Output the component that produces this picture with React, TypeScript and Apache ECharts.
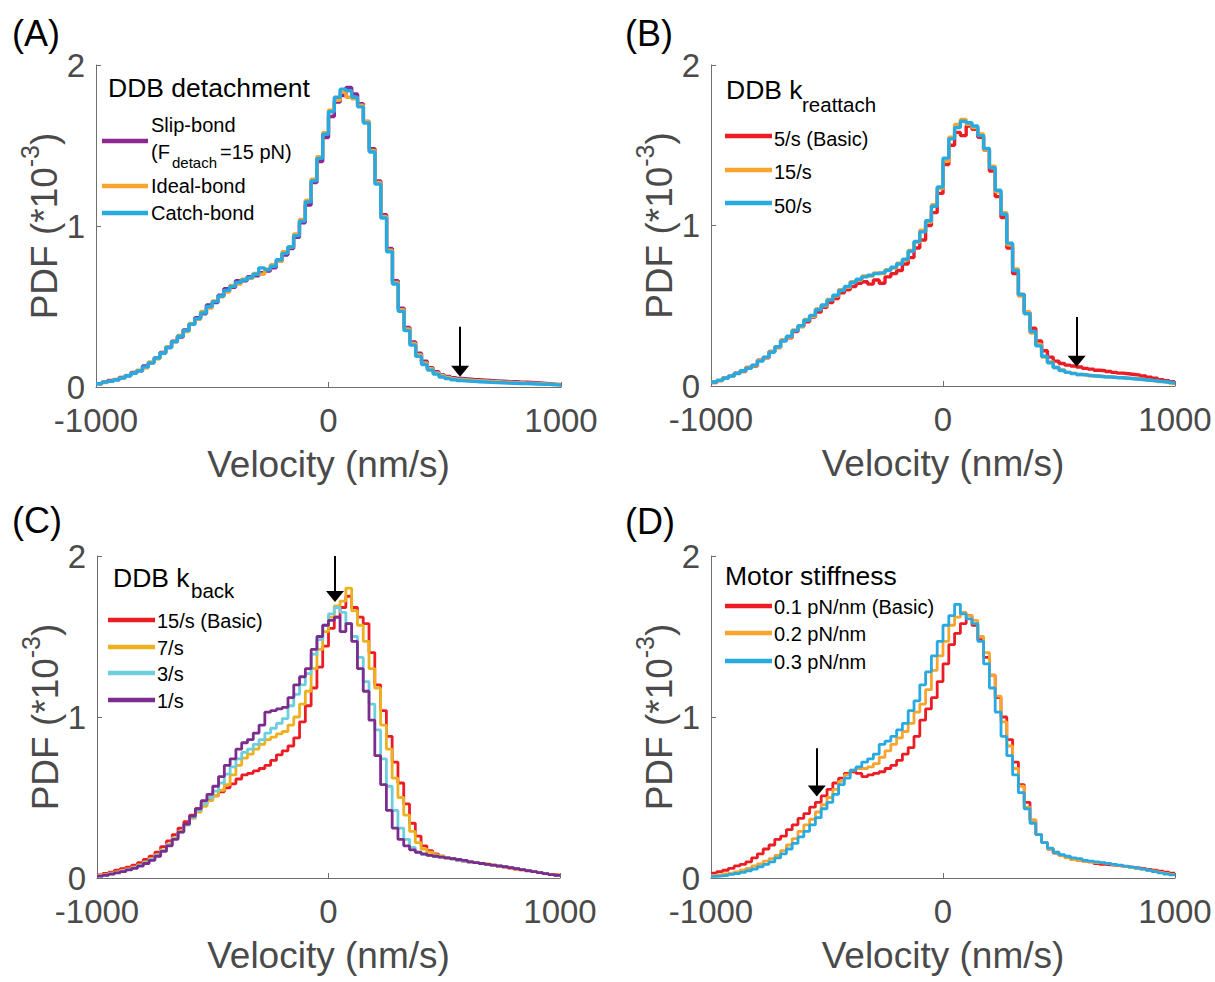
import React, { useEffect, useRef } from "react";
import * as echarts from "echarts";

// ---------- axes ----------
const X_MIN = -1000;
const X_MAX = 1000;
const X_INTERVAL = 1000;
const BIN = 25; // histogram bin width (nm/s)
const Y_MIN = 0;
const Y_MAX = 2;
const Y_INTERVAL = 1;
const X_TITLE = "Velocity (nm/s)";

// ---------- panel A : DDB detachment ----------
const A_LABELS = ["Slip-bond", "Ideal-bond", "Catch-bond"];
const A_SLIP = [
  0.02, 0.03, 0.04, 0.045, 0.06, 0.07, 0.09, 0.1, 0.13, 0.15,
  0.18, 0.215, 0.245, 0.285, 0.31, 0.355, 0.39, 0.43, 0.455, 0.51,
  0.525, 0.57, 0.61, 0.62, 0.66, 0.66, 0.685, 0.69, 0.71, 0.72,
  0.74, 0.78, 0.82, 0.86, 0.93, 1.02, 1.13, 1.27, 1.4, 1.55,
  1.68, 1.77, 1.81, 1.86, 1.82, 1.76, 1.65, 1.48, 1.28, 1.07,
  0.86, 0.66, 0.49, 0.37, 0.28, 0.21, 0.16, 0.12, 0.095, 0.075,
  0.065, 0.058, 0.053, 0.05, 0.047, 0.045, 0.043, 0.04, 0.038, 0.036,
  0.034, 0.033, 0.031, 0.03, 0.028, 0.026, 0.024, 0.021, 0.018, 0.015,
];
const A_IDEAL = [
  0.02, 0.028, 0.036, 0.047, 0.055, 0.072, 0.085, 0.105, 0.12, 0.155,
  0.175, 0.21, 0.25, 0.28, 0.32, 0.345, 0.395, 0.42, 0.47, 0.49,
  0.535, 0.56, 0.59, 0.63, 0.64, 0.67, 0.675, 0.705, 0.7, 0.73,
  0.76, 0.78, 0.84, 0.87, 0.95, 1.04, 1.16, 1.29, 1.43, 1.58,
  1.72, 1.78, 1.83, 1.8, 1.79, 1.75, 1.65, 1.47, 1.27, 1.06,
  0.85, 0.65, 0.48, 0.36, 0.27, 0.2, 0.15, 0.113, 0.088, 0.07,
  0.06, 0.052, 0.047, 0.044, 0.041, 0.039, 0.037, 0.035, 0.033, 0.031,
  0.03, 0.028, 0.027, 0.025, 0.024, 0.022, 0.02, 0.018, 0.016, 0.014,
];
const A_CATCH = [
  0.02, 0.03, 0.035, 0.045, 0.055, 0.07, 0.085, 0.1, 0.125, 0.15,
  0.18, 0.21, 0.245, 0.28, 0.315, 0.35, 0.39, 0.425, 0.46, 0.5,
  0.53, 0.565, 0.6, 0.625, 0.65, 0.665, 0.68, 0.7, 0.74, 0.73,
  0.75, 0.79, 0.83, 0.87, 0.94, 1.03, 1.15, 1.28, 1.42, 1.57,
  1.71, 1.8, 1.85, 1.84, 1.8, 1.74, 1.64, 1.46, 1.26, 1.05,
  0.84, 0.64, 0.47, 0.35, 0.26, 0.19, 0.14, 0.105, 0.08, 0.062,
  0.052, 0.045, 0.04, 0.037, 0.035, 0.033, 0.031, 0.029, 0.027, 0.026,
  0.024, 0.023, 0.022, 0.021, 0.02, 0.018, 0.017, 0.016, 0.014, 0.013,
];

// ---------- panel B : DDB k_reattach ----------
const B_LABELS = ["5/s (Basic)", "15/s", "50/s"];
const B_5 = [
  0.022, 0.035, 0.05, 0.06, 0.08, 0.09, 0.115, 0.125, 0.16, 0.175,
  0.215, 0.24, 0.285, 0.3, 0.34, 0.37, 0.4, 0.43, 0.46, 0.49,
  0.52, 0.545, 0.58, 0.6, 0.62, 0.64, 0.65, 0.635, 0.66, 0.64,
  0.68, 0.7, 0.72, 0.76, 0.8, 0.86, 0.91, 1.0, 1.08, 1.2,
  1.38, 1.5, 1.58, 1.56, 1.62, 1.6, 1.55, 1.47, 1.34, 1.18,
  1.05, 0.86, 0.7, 0.57, 0.46, 0.36, 0.28, 0.22, 0.18, 0.155,
  0.14, 0.13, 0.125, 0.118, 0.11, 0.105, 0.098, 0.095, 0.09, 0.085,
  0.08, 0.076, 0.072, 0.068, 0.062, 0.055, 0.048, 0.04, 0.033, 0.027,
];
const B_15 = [
  0.024, 0.033, 0.05, 0.06, 0.08, 0.093, 0.113, 0.128, 0.158, 0.178,
  0.215, 0.24, 0.285, 0.305, 0.35, 0.37, 0.415, 0.435, 0.48, 0.5,
  0.54, 0.56, 0.6, 0.615, 0.65, 0.66, 0.685, 0.685, 0.705, 0.7,
  0.725, 0.735, 0.765, 0.785, 0.845, 0.895, 0.97, 1.02, 1.13, 1.23,
  1.4, 1.55, 1.63, 1.66, 1.63, 1.61, 1.57, 1.47, 1.37, 1.21,
  1.08, 0.88, 0.73, 0.56, 0.46, 0.33, 0.26, 0.18, 0.15, 0.115,
  0.1, 0.085, 0.08, 0.072, 0.07, 0.064, 0.062, 0.058, 0.057, 0.053,
  0.052, 0.048, 0.046, 0.042, 0.04, 0.035, 0.032, 0.027, 0.024, 0.019,
];
const B_50 = [
  0.025, 0.035, 0.048, 0.062, 0.078, 0.095, 0.11, 0.13, 0.155, 0.18,
  0.21, 0.245, 0.28, 0.31, 0.345, 0.375, 0.41, 0.44, 0.475, 0.505,
  0.535, 0.565, 0.595, 0.62, 0.645, 0.665, 0.68, 0.69, 0.7, 0.705,
  0.72, 0.74, 0.76, 0.79, 0.84, 0.9, 0.96, 1.03, 1.12, 1.24,
  1.42, 1.54, 1.61, 1.65, 1.64, 1.62, 1.56, 1.48, 1.36, 1.22,
  1.07, 0.89, 0.72, 0.57, 0.45, 0.34, 0.25, 0.185, 0.145, 0.115,
  0.097, 0.085, 0.077, 0.072, 0.068, 0.064, 0.061, 0.058, 0.056, 0.053,
  0.051, 0.048, 0.045, 0.042, 0.039, 0.035, 0.031, 0.027, 0.023, 0.019,
];

// ---------- panel C : DDB k_back ----------
const C_LABELS = ["15/s (Basic)", "7/s", "3/s", "1/s"];
const C_15 = [
  0.02, 0.028, 0.036, 0.048, 0.058, 0.068, 0.08, 0.095, 0.115, 0.135,
  0.16, 0.195, 0.23, 0.27, 0.31, 0.35, 0.39, 0.43, 0.46, 0.49,
  0.51, 0.535, 0.56, 0.585, 0.615, 0.64, 0.65, 0.665, 0.68, 0.7,
  0.73, 0.765, 0.79, 0.82, 0.87, 0.97, 1.07, 1.18, 1.31, 1.44,
  1.55, 1.62, 1.68, 1.75, 1.68, 1.62, 1.58, 1.4, 1.2, 1.04,
  0.88, 0.72, 0.59, 0.46, 0.34, 0.26, 0.2, 0.17, 0.15, 0.135,
  0.125, 0.12, 0.11, 0.105, 0.1, 0.095, 0.09, 0.085, 0.078, 0.072,
  0.068, 0.062, 0.056, 0.05, 0.045, 0.04, 0.034, 0.028, 0.022, 0.018,
];
const C_7 = [
  0.016, 0.022, 0.03, 0.038, 0.047, 0.057, 0.068, 0.082, 0.1, 0.12,
  0.145, 0.175, 0.21, 0.25, 0.29, 0.33, 0.37, 0.41, 0.445, 0.48,
  0.51, 0.545, 0.58, 0.64, 0.7, 0.745, 0.77, 0.8, 0.83, 0.86,
  0.875, 0.895, 0.91, 0.95, 1.0, 1.08, 1.16, 1.3, 1.42, 1.53,
  1.62, 1.69, 1.72, 1.8, 1.66, 1.57, 1.47, 1.3, 1.18, 0.95,
  0.8, 0.62, 0.5, 0.39, 0.29, 0.22, 0.18, 0.16, 0.145, 0.135,
  0.125, 0.118, 0.112, 0.105, 0.1, 0.095, 0.09, 0.086, 0.08, 0.074,
  0.068, 0.063, 0.057, 0.051, 0.046, 0.04, 0.034, 0.028, 0.022, 0.017,
];
const C_3 = [
  0.012, 0.018, 0.026, 0.034, 0.043, 0.053, 0.064, 0.078, 0.095, 0.115,
  0.14, 0.17, 0.205, 0.245, 0.285, 0.33, 0.375, 0.42, 0.46, 0.5,
  0.54, 0.59, 0.645, 0.69, 0.74, 0.78, 0.8, 0.83, 0.86, 0.9,
  0.93, 0.96, 0.99, 1.07, 1.14, 1.2, 1.27, 1.39, 1.48, 1.57,
  1.64, 1.68, 1.65, 1.58, 1.5, 1.37, 1.22, 1.08, 0.92, 0.74,
  0.57, 0.42, 0.31, 0.24, 0.19, 0.16, 0.145, 0.14, 0.135, 0.13,
  0.125, 0.118, 0.11, 0.105, 0.1, 0.095, 0.09, 0.085, 0.08, 0.075,
  0.07, 0.064, 0.058, 0.052, 0.046, 0.04, 0.034, 0.027, 0.021, 0.016,
];
const C_1 = [
  0.012, 0.017, 0.024, 0.032, 0.04, 0.05, 0.06, 0.074, 0.09, 0.11,
  0.135, 0.165, 0.2, 0.24, 0.285, 0.335, 0.385, 0.43, 0.48, 0.52,
  0.57, 0.63, 0.7, 0.74, 0.8, 0.84, 0.86, 0.9, 0.95, 1.03,
  1.04, 1.05, 1.06, 1.12, 1.2, 1.25, 1.3, 1.42, 1.5, 1.57,
  1.6, 1.62, 1.53, 1.58, 1.47, 1.3, 1.16, 0.98, 0.76, 0.58,
  0.42, 0.31, 0.24, 0.2, 0.175, 0.16, 0.15, 0.14, 0.135, 0.13,
  0.125, 0.12, 0.115, 0.11, 0.1, 0.095, 0.09, 0.085, 0.08, 0.075,
  0.07, 0.064, 0.058, 0.052, 0.046, 0.04, 0.034, 0.027, 0.021, 0.016,
];

// ---------- panel D : motor stiffness ----------
const D_LABELS = ["0.1 pN/nm (Basic)", "0.2 pN/nm", "0.3 pN/nm"];
const D_01 = [
  0.03, 0.04, 0.048, 0.06, 0.075, 0.085, 0.1, 0.125, 0.15, 0.18,
  0.205, 0.24, 0.26, 0.3, 0.33, 0.37, 0.4, 0.44, 0.47, 0.51,
  0.55, 0.59, 0.62, 0.65, 0.66, 0.65, 0.63, 0.64, 0.65, 0.66,
  0.68, 0.7, 0.73, 0.77, 0.81, 0.88, 0.98, 1.05, 1.12, 1.22,
  1.33, 1.45, 1.52, 1.58, 1.63, 1.57, 1.48, 1.37, 1.26, 1.12,
  1.0, 0.86, 0.72, 0.58, 0.47, 0.36, 0.27, 0.22, 0.18, 0.155,
  0.14, 0.13, 0.115, 0.11, 0.105, 0.1, 0.09, 0.085, 0.082, 0.078,
  0.074, 0.07, 0.066, 0.062, 0.058, 0.053, 0.048, 0.042, 0.036, 0.03,
];
const D_02 = [
  0.015, 0.02, 0.025, 0.03, 0.038, 0.048, 0.06, 0.075, 0.088, 0.105,
  0.12, 0.14, 0.17, 0.205, 0.245, 0.29, 0.33, 0.365, 0.41, 0.455,
  0.5, 0.55, 0.6, 0.64, 0.67, 0.68, 0.68, 0.69, 0.71, 0.75,
  0.79, 0.83, 0.87, 0.91, 0.96, 1.03, 1.08, 1.17, 1.29, 1.38,
  1.47, 1.57, 1.62, 1.65, 1.63, 1.6, 1.5, 1.4, 1.26, 1.13,
  0.97, 0.82, 0.68, 0.57, 0.44, 0.36, 0.27, 0.22, 0.18, 0.16,
  0.14, 0.125, 0.115, 0.11, 0.105, 0.1, 0.095, 0.092, 0.088, 0.083,
  0.078, 0.072, 0.066, 0.06, 0.055, 0.048, 0.042, 0.035, 0.028, 0.022,
];
const D_03 = [
  0.01, 0.013, 0.017, 0.022, 0.028, 0.035, 0.045, 0.056, 0.07, 0.085,
  0.1, 0.125, 0.15, 0.18, 0.215, 0.255, 0.29, 0.33, 0.375, 0.43,
  0.47, 0.52, 0.58, 0.62, 0.67, 0.69, 0.72, 0.74, 0.77, 0.83,
  0.85, 0.88, 0.92, 0.96, 1.04, 1.1, 1.2, 1.28, 1.38, 1.47,
  1.57, 1.63, 1.7, 1.64, 1.61, 1.58, 1.47, 1.33, 1.18, 1.03,
  0.88, 0.76, 0.64, 0.53, 0.43, 0.34, 0.27, 0.22, 0.185, 0.16,
  0.145, 0.135, 0.125, 0.12, 0.11, 0.105, 0.1, 0.095, 0.09, 0.085,
  0.08, 0.074, 0.068, 0.062, 0.055, 0.048, 0.04, 0.032, 0.025, 0.02,
];

// ---------- arrows (velocity, arrow top, arrow tip) ----------
const ARROW_X = [566, 576, 28, -544];
const ARROW_TOP = [0.375, 0.43, 2.0, 0.806];
const ARROW_TIP = [0.064, 0.12, 1.715, 0.506];

// ---------- styles ----------
const FONT = "Arial, 'Liberation Sans', Helvetica, sans-serif";
const AXIS_COLOR = "#6e6e6e";
const LABEL_COLOR = "#4a4a4a";
const RED = "#EC1C24";
const ORANGE = "#F8A52F";
const CYAN = "#27AAE1";
const PURPLE = "#8E278F";
const GOLD = "#EDB120";
const LIGHTCYAN = "#6CCEDF";
const DPURPLE = "#7B2C8D";

const stairs = (vals: number[]) => {
  const pts: number[][] = vals.map((v, i) => [X_MIN + i * BIN, v]);
  pts.push([X_MIN + vals.length * BIN, vals[vals.length - 1]]);
  return pts;
};

const PANELS = [
  {
    grid: { left: 96, top: 65, width: 465, height: 322 },
    series: [
      { name: A_LABELS[0], data: A_SLIP, color: PURPLE },
      { name: A_LABELS[1], data: A_IDEAL, color: ORANGE },
      { name: A_LABELS[2], data: A_CATCH, color: CYAN },
    ],
    width: 3.4,
  },
  {
    grid: { left: 711, top: 65, width: 464, height: 321 },
    series: [
      { name: B_LABELS[0], data: B_5, color: RED },
      { name: B_LABELS[1], data: B_15, color: ORANGE },
      { name: B_LABELS[2], data: B_50, color: CYAN },
    ],
    width: 3.4,
  },
  {
    grid: { left: 97, top: 556, width: 463, height: 322 },
    series: [
      { name: C_LABELS[0], data: C_15, color: RED },
      { name: C_LABELS[1], data: C_7, color: GOLD },
      { name: C_LABELS[2], data: C_3, color: LIGHTCYAN },
      { name: C_LABELS[3], data: C_1, color: DPURPLE },
    ],
    width: 2.8,
  },
  {
    grid: { left: 711, top: 556, width: 464, height: 322 },
    series: [
      { name: D_LABELS[0], data: D_01, color: RED },
      { name: D_LABELS[1], data: D_02, color: ORANGE },
      { name: D_LABELS[2], data: D_03, color: CYAN },
    ],
    width: 2.8,
  },
];

const txt = (x: number, y: number, text: string, size: number, color = "#000") => ({
  type: "text",
  x,
  y,
  silent: true,
  style: {
    text,
    fill: color,
    fontSize: size,
    fontFamily: FONT,
    align: "left",
    verticalAlign: "middle",
  },
});
const seg = (x1: number, x2: number, y: number, color: string) => ({
  type: "line",
  silent: true,
  shape: { x1, y1: y, x2, y2: y },
  style: { stroke: color, lineWidth: 4.5 },
});

function buildOption() {
  const grids = PANELS.map((p) => p.grid);
  const xAxes = PANELS.map((_, g) => ({
    type: "value",
    gridIndex: g,
    min: X_MIN,
    max: X_MAX,
    interval: X_INTERVAL,
    axisLine: { show: true, onZero: false, lineStyle: { color: AXIS_COLOR, width: 1 } },
    axisTick: { show: true, inside: true, length: 5, lineStyle: { color: AXIS_COLOR } },
    splitLine: { show: false },
    axisLabel: {
      color: LABEL_COLOR,
      fontSize: 33,
      fontFamily: FONT,
      margin: 17,
      formatter: (v: number) => String(v),
    },
    name: X_TITLE,
    nameLocation: "middle",
    nameGap: 59,
    nameTextStyle: { color: LABEL_COLOR, fontSize: 37, fontFamily: FONT },
  }));
  const yAxes = PANELS.map((_, g) => ({
    type: "value",
    gridIndex: g,
    min: Y_MIN,
    max: Y_MAX,
    interval: Y_INTERVAL,
    axisLine: { show: true, onZero: false, lineStyle: { color: AXIS_COLOR, width: 1 } },
    axisTick: { show: true, inside: true, length: 5, lineStyle: { color: AXIS_COLOR } },
    splitLine: { show: false },
    axisLabel: {
      color: LABEL_COLOR,
      fontSize: 33,
      fontFamily: FONT,
      margin: 11,
      formatter: (v: number) => String(v),
    },
    name: "{m|PDF (*10}{s|-3}{m|)}",
    nameLocation: "middle",
    nameGap: 32,
    nameTextStyle: {
      rich: {
        m: { fontSize: 37, color: LABEL_COLOR, fontFamily: FONT, verticalAlign: "bottom" },
        s: {
          fontSize: 25,
          color: LABEL_COLOR,
          fontFamily: FONT,
          verticalAlign: "bottom",
          padding: [0, 0, 20, 0],
        },
      },
    },
  }));

  const series: any[] = [];
  PANELS.forEach((p, g) => {
    p.series.forEach((s, k) => {
      const isLast = k === p.series.length - 1;
      series.push({
        type: "line",
        name: s.name,
        xAxisIndex: g,
        yAxisIndex: g,
        data: stairs(s.data),
        step: "end",
        showSymbol: false,
        symbol: "none",
        silent: true,
        lineStyle: { color: s.color, width: p.width },
        itemStyle: { color: s.color },
        z: 2 + k,
        markLine: isLast
          ? {
              silent: true,
              symbol: ["none", "triangle"],
              symbolSize: [18, 11],
              label: { show: false },
              lineStyle: { color: "#000", width: 2, type: "solid" },
              data: [
                [
                  { coord: [ARROW_X[g], ARROW_TOP[g]] },
                  { coord: [ARROW_X[g], ARROW_TIP[g] + 0.034] },
                ],
              ],
            }
          : undefined,
      });
    });
  });

  const graphic: any[] = [
    // panel letters
    txt(12, 33, "(A)", 36),
    txt(625, 33, "(B)", 36),
    txt(12, 520, "(C)", 36),
    txt(625, 521, "(D)", 36),
    // legend A
    txt(108, 88, "DDB detachment", 26.5),
    seg(102, 148, 141, PURPLE),
    txt(151, 125, A_LABELS[0], 20),
    txt(151, 152, "(F", 20),
    txt(172, 162, "detach", 15),
    txt(220, 152, "=15 pN)", 20),
    seg(102, 148, 186, ORANGE),
    txt(151, 186, A_LABELS[1], 20),
    seg(102, 148, 213, CYAN),
    txt(151, 213, A_LABELS[2], 20),
    // legend B
    txt(726, 90, "DDB k", 26.5),
    txt(802, 104, "reattach", 20.5),
    seg(725, 772, 136, RED),
    txt(774, 139, B_LABELS[0], 20),
    seg(725, 772, 170, ORANGE),
    txt(774, 172, B_LABELS[1], 20),
    seg(725, 772, 203, CYAN),
    txt(774, 206, B_LABELS[2], 20),
    // legend C
    txt(113, 578, "DDB k", 26.5),
    txt(191, 590, "back", 20.5),
    seg(108, 155, 620, RED),
    txt(157, 621, C_LABELS[0], 20),
    seg(108, 155, 647, GOLD),
    txt(157, 648, C_LABELS[1], 20),
    seg(108, 155, 673, LIGHTCYAN),
    txt(157, 674, C_LABELS[2], 20),
    seg(108, 155, 700, DPURPLE),
    txt(157, 701, C_LABELS[3], 20),
    // legend D
    txt(725, 576, "Motor stiffness", 26.5),
    seg(725, 772, 606, RED),
    txt(774, 607, D_LABELS[0], 20),
    seg(725, 772, 633, ORANGE),
    txt(774, 634, D_LABELS[1], 20),
    seg(725, 772, 661, CYAN),
    txt(774, 662, D_LABELS[2], 20),
  ];

  return {
    animation: false,
    backgroundColor: "#ffffff",
    grid: grids,
    xAxis: xAxes,
    yAxis: yAxes,
    series,
    graphic,
  };
}

export default function App() {
  const ref = useRef<HTMLDivElement>(null);
  useEffect(() => {
    if (!ref.current) return;
    const chart = echarts.init(ref.current, undefined, { renderer: "svg" });
    chart.setOption(buildOption() as any);
    return () => chart.dispose();
  }, []);
  return (
    <div
      ref={ref}
      style={{ position: "absolute", left: 0, top: 0, width: 1215, height: 982, background: "#fff" }}
    />
  );
}
